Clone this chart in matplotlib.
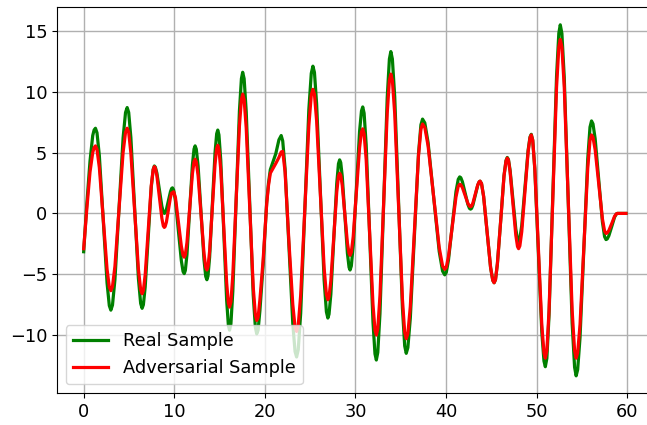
import matplotlib
matplotlib.use('Agg')
import matplotlib.pyplot as plt

# points: each row runs from just after one turning
# point to the next one
x = [0, 0.35, 0.7, 1.0, 1.15, 1.3,
     1.47, 1.73, 2.15, 2.58, 2.83, 3.0,
     3.18, 3.45, 3.9, 4.35, 4.62, 4.8,
     4.97, 5.21, 5.63, 6.04, 6.29, 6.45,
     6.59, 6.79, 7.13, 7.46, 7.67, 7.8,
     7.91, 8.08, 8.35, 8.63, 8.79, 8.9,
     8.99, 9.13, 9.35, 9.58, 9.71, 9.8,
     9.93, 10.13, 10.45, 10.78, 10.97, 11.1,
     11.22, 11.4, 11.7, 12.0, 12.18, 12.3,
     12.43, 12.63, 12.95, 13.28, 13.47, 13.6,
     13.72, 13.9, 14.2, 14.5, 14.68, 14.8,
     14.93, 15.13, 15.45, 15.78, 15.97, 16.1,
     16.25, 16.46, 16.83, 17.19, 17.41, 17.55,
     17.71, 17.94, 18.33, 18.71, 18.95, 19.1,
     19.25, 19.45, 19.8, 20.2, 20.4, 20.6, 21.2, 21.55, 21.8,
     21.97, 22.23, 22.65, 23.08, 23.33, 23.5,
     23.68, 23.95, 24.4, 24.85, 25.12, 25.3,
     25.47, 25.71, 26.13, 26.54, 26.79, 26.95,
     27.08, 27.28, 27.6, 27.93, 28.12, 28.25,
     28.37, 28.54, 28.83, 29.11, 29.29, 29.4,
     29.54, 29.75, 30.1, 30.45, 30.66, 30.8,
     30.95, 31.18, 31.55, 31.93, 32.15, 32.3,
     32.46, 32.7, 33.1, 33.5, 33.74, 33.9,
     34.07, 34.33, 34.75, 35.18, 35.43, 35.6,
     35.78, 36.05, 36.5, 36.95, 37.22, 37.4,
     37.65, 38.01, 38.63, 39.24, 39.61, 39.85,
     40.02, 40.26, 40.68, 41.09, 41.34, 41.5,
     41.62, 41.8, 42.1, 42.4, 42.58, 42.7,
     42.81, 42.96, 43.23, 43.49, 43.65, 43.75,
     43.91, 44.14, 44.53, 44.91, 45.15, 45.3,
     45.45, 45.66, 46.03, 46.39, 46.61, 46.75,
     46.88, 47.06, 47.38, 47.69, 47.88, 48.0,
     48.14, 48.35, 48.7, 49.05, 49.26, 49.4,
     49.56, 49.79, 50.18, 50.56, 50.8, 50.95,
     51.12, 51.36, 51.78, 52.19, 52.44, 52.6,
     52.78, 53.04, 53.48, 53.91, 54.18, 54.35,
     54.52, 54.78, 55.2, 55.63, 55.88, 56.05,
     56.21, 56.45, 56.85, 57.25, 57.49, 57.65,
     57.78, 57.96, 58.28, 58.59, 58.78, 58.9,
     59.3, 59.85]

real = [-3.15, 0.8, 4.3, 6.4, 6.85, 7.0,
        6.63, 4.76, -0.48, -5.71, -7.58, -7.95,
        -7.54, -5.45, 0.38, 6.2, 8.29, 8.7,
        8.3, 6.23, 0.45, -5.33, -7.4, -7.8,
        -7.51, -6.05, -1.95, 2.15, 3.61, 3.9,
        3.8, 3.32, 1.95, 0.59, 0.1, 0.0,
        0.05, 0.32, 1.05, 1.79, 2.05, 2.1,
        1.93, 1.04, -1.43, -3.89, -4.78, -4.95,
        -4.69, -3.38, 0.3, 3.98, 5.29, 5.55,
        5.28, 3.9, 0.05, -3.8, -5.18, -5.45,
        -5.15, -3.61, 0.7, 5.01, 6.55, 6.85,
        6.45, 4.38, -1.38, -7.13, -9.2, -9.6,
        -9.08, -6.42, 1.0, 8.42, 11.08, 11.6,
        11.07, 8.38, 0.85, -6.68, -9.37, -9.9,
        -9.6, -8.0, -4.3, 0.9, 2.5, 3.6, 4.9, 6.05, 6.4,
        5.95, 3.67, -2.7, -9.07, -11.35, -11.8,
        -11.21, -8.22, 0.15, 8.52, 11.51, 12.1,
        11.59, 9.0, 1.75, -5.5, -8.09, -8.6,
        -8.28, -6.65, -2.1, 2.45, 4.08, 4.4,
        4.18, 3.04, -0.13, -3.29, -4.43, -4.65,
        -4.32, -2.64, 2.05, 6.74, 8.42, 8.75,
        8.24, 5.63, -1.65, -8.93, -11.54, -12.05,
        -11.43, -8.25, 0.63, 9.5, 12.68, 13.3,
        12.69, 9.58, 0.9, -7.78, -10.89, -11.5,
        -11.03, -8.61, -1.88, 4.86, 7.28, 7.75,
        7.44, 5.83, 1.35, -3.13, -4.74, -5.05,
        -4.85, -3.84, -1.03, 1.79, 2.8, 3.0,
        2.94, 2.6, 1.68, 0.75, 0.41, 0.35,
        0.41, 0.69, 1.5, 2.31, 2.59, 2.65,
        2.45, 1.4, -1.53, -4.45, -5.5, -5.7,
        -5.45, -4.15, -0.55, 3.1, 4.35, 4.6,
        4.43, 3.56, 1.15, -1.27, -2.13, -2.3,
        -2.08, -0.98, 2.1, 5.18, 6.28, 6.5,
        6.03, 3.63, -3.05, -9.74, -12.13, -12.6,
        -11.91, -8.38, 1.45, 11.3, 14.81, 15.5,
        14.79, 11.17, 1.08, -9.02, -12.64, -13.35,
        -12.84, -10.21, -2.88, 4.46, 7.09, 7.6,
        7.36, 6.14, 2.73, -0.69, -1.91, -2.15,
        -2.1, -1.84, -1.08, -0.31, -0.05, 0.0,
        0.0, 0.0]

adv = [-2.9, 0.4, 3.4, 5.0, 5.4, 5.55,
       5.26, 3.77, -0.4, -4.57, -6.06, -6.35,
       -6.02, -4.35, 0.33, 5.0, 6.67, 7.0,
       6.67, 4.96, 0.2, -4.56, -6.27, -6.6,
       -6.34, -5.03, -1.38, 2.28, 3.59, 3.85,
       3.73, 3.1, 1.35, -0.4, -1.03, -1.15,
       -1.08, -0.72, 0.3, 1.32, 1.68, 1.7,
       1.78, 1.3, -0.7, -2.7, -3.45, -3.6,
       -3.4, -2.39, 0.43, 3.24, 4.25, 4.45,
       4.23, 3.09, -0.1, -3.29, -4.43, -4.65,
       -4.4, -3.11, 0.48, 4.06, 5.35, 5.6,
       5.27, 3.6, -1.05, -5.7, -7.37, -7.7,
       -7.27, -5.08, 1.05, 7.18, 9.37, 9.8,
       9.34, 7.01, 0.5, -6.01, -8.34, -8.8,
       -8.55, -7.1, -3.9, 0.8, 2.3, 3.3, 4.1, 4.6, 5.05,
       5.1, 3.4, -2.3, -7.48, -9.35, -9.7,
       -9.21, -6.72, 0.25, 7.2, 9.71, 10.2,
       9.78, 7.6, 1.55, -4.5, -6.68, -7.1,
       -6.85, -5.54, -1.9, 1.74, 3.05, 3.3,
       3.13, 2.29, -0.08, -2.44, -3.28, -3.45,
       -3.2, -1.89, 1.75, 5.39, 6.7, 6.95,
       6.53, 4.41, -1.53, -7.46, -9.58, -10.0,
       -9.47, -6.78, 0.73, 8.23, 10.92, 11.45,
       10.92, 8.19, 0.58, -7.04, -9.77, -10.3,
       -9.87, -7.65, -1.48, 4.7, 6.92, 7.35,
       7.06, 5.56, 1.38, -2.81, -4.31, -4.6,
       -4.43, -3.55, -1.1, 1.35, 2.23, 2.4,
       2.35, 2.12, 1.48, 0.83, 0.6, 0.55,
       0.6, 0.86, 1.6, 2.34, 2.6, 2.65,
       2.45, 1.4, -1.53, -4.45, -5.5, -5.7,
       -5.45, -4.15, -0.55, 3.08, 4.3, 4.55,
       4.37, 3.43, 0.83, -1.78, -2.72, -2.9,
       -2.67, -1.5, 1.78, 5.05, 6.22, 6.45,
       6.0, 3.7, -2.73, -9.15, -11.45, -11.9,
       -11.26, -7.97, 1.2, 10.37, 13.66, 14.3,
       13.66, 10.37, 1.2, -7.97, -11.26, -11.9,
       -11.45, -9.15, -2.73, 3.7, 6.0, 6.45,
       6.25, 5.23, 2.4, -0.44, -1.45, -1.65,
       -1.6, -1.41, -0.83, -0.24, -0.04, 0.0,
       0.0, 0.0]

xticks = [0, 10, 20, 30, 40, 50, 60]
yticks = [-10, -5, 0, 5, 10, 15]

fig = plt.figure(figsize=(6.47, 4.25), dpi=100)
# right edge of the axes sits just past the figure, as in the reference
ax = fig.add_axes([0.088, 0.075, 0.925, 0.909])

ax.plot(x, real, color='green', lw=2.3, label='Real Sample')
ax.plot(x, adv, color='red', lw=2.3, label='Adversarial Sample')

ax.set_xlim(-2.95, 63.1)
ax.set_ylim(-14.77, 16.98)
ax.set_xticks(xticks)
ax.set_yticks(yticks)
ax.tick_params(labelsize=12.8)
ax.grid(True, color='#b0b0b0', lw=1.0)
ax.legend(loc='lower left', fontsize=12.8)

fig.savefig('out.png', dpi=100)
